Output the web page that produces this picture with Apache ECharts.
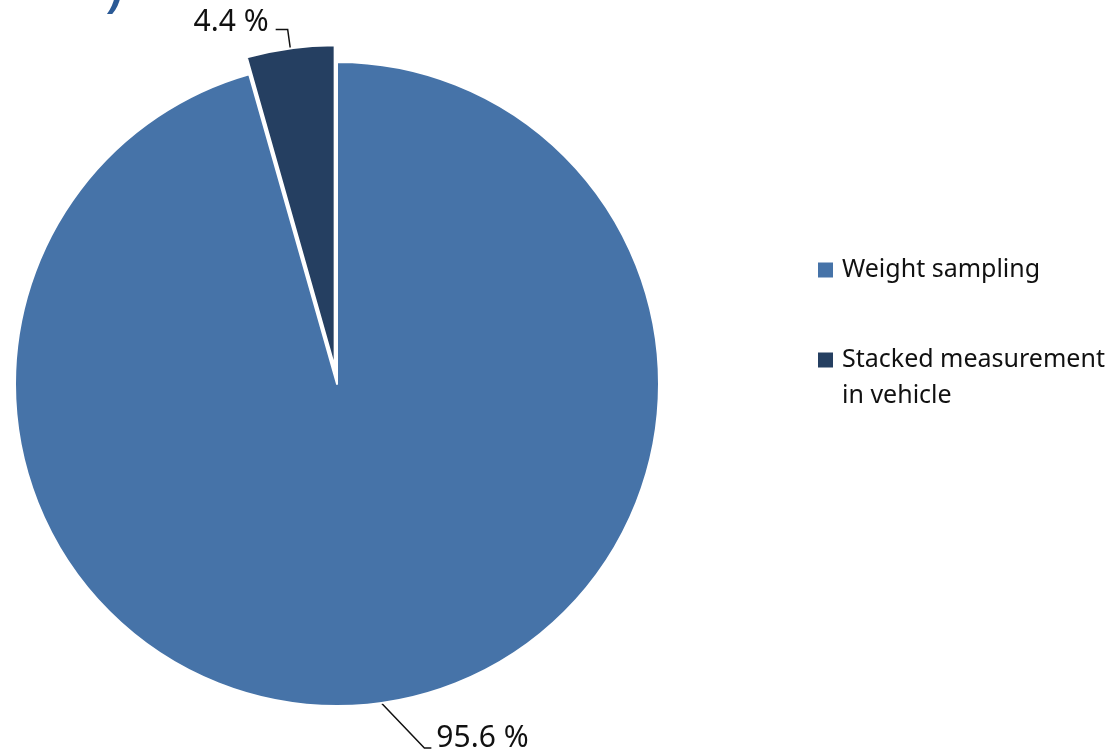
<!DOCTYPE html>
<html>
<head>
<meta charset="utf-8">
<script src="https://cdn.jsdelivr.net/npm/echarts@6/dist/echarts.min.js"></script>
<style>html,body{margin:0;padding:0;background:#fff;}#c{width:1115px;height:756px;}</style>
</head>
<body>
<div id="c"></div>
<script>
const categories = ['Weight sampling', 'Stacked measurement in vehicle'];
const values = [95.6, 4.4];
const legendLabels = ['Weight sampling', ' \nStacked measurement\nin vehicle'];
const colors = ['#4673a8', '#253f61'];

const chart = echarts.init(document.getElementById('c'));
const FONT = '"Noto Sans", sans-serif';

chart.setOption({
  animation: false,
  graphic: [{
    type: 'text', left: 105, top: -46, silent: true,
    style: { text: ')', fontSize: 64, fill: '#2b5a96', fontFamily: FONT }
  }],
  legend: {
    orient: 'vertical',
    left: 813,
    top: 247,
    itemWidth: 15,
    itemHeight: 15,
    itemGap: 18,
    icon: 'rect',
    itemStyle: { borderWidth: 0 },
    textStyle: { fontSize: 25, fontFamily: FONT, color: '#111', lineHeight: 36, padding: [0, 0, 0, 4] },
    formatter: function (name) { return legendLabels[categories.indexOf(name)]; },
    data: categories
  },
  series: [{
    type: 'pie',
    center: [337, 384],
    radius: 322,
    startAngle: 90,
    clockwise: true,
    selectedMode: 'single',
    selectedOffset: 17,
    avoidLabelOverlap: false,
    itemStyle: { borderColor: '#fff', borderWidth: 2 },
    label: {
      show: true,
      position: 'outside',
      fontSize: 30,
      lineHeight: 24,
      fontFamily: FONT,
      color: '#111',
      formatter: function (p) { return p.value.toFixed(1) + ' %' + (p.dataIndex === 1 ? '\n' : ''); }
    },
    labelLine: { show: true, length: 19, length2: 12, lineStyle: { color: '#111', width: 1.5 } },
    labelLayout: function (params) {
      const p = params.labelLinePoints;
      if (!p || params.dataIndex !== 0) return {};
      const s = p[0];
      const e = [s[0] + 43, s[1] + 45];
      const f = [e[0] + 7, e[1]];
      return { x: f[0] + 5, y: f[1] - 9, align: 'left', verticalAlign: 'middle', labelLinePoints: [s, e, f] };
    },
    data: categories.map(function (c, i) {
      const d = { name: c, value: values[i], selected: i === 1, itemStyle: { color: colors[i] } };
      if (i === 1) d.label = { padding: [0, 2, 0, 0], lineHeight: 13 };
      return d;
    })
  }]
});
</script>
</body>
</html>
